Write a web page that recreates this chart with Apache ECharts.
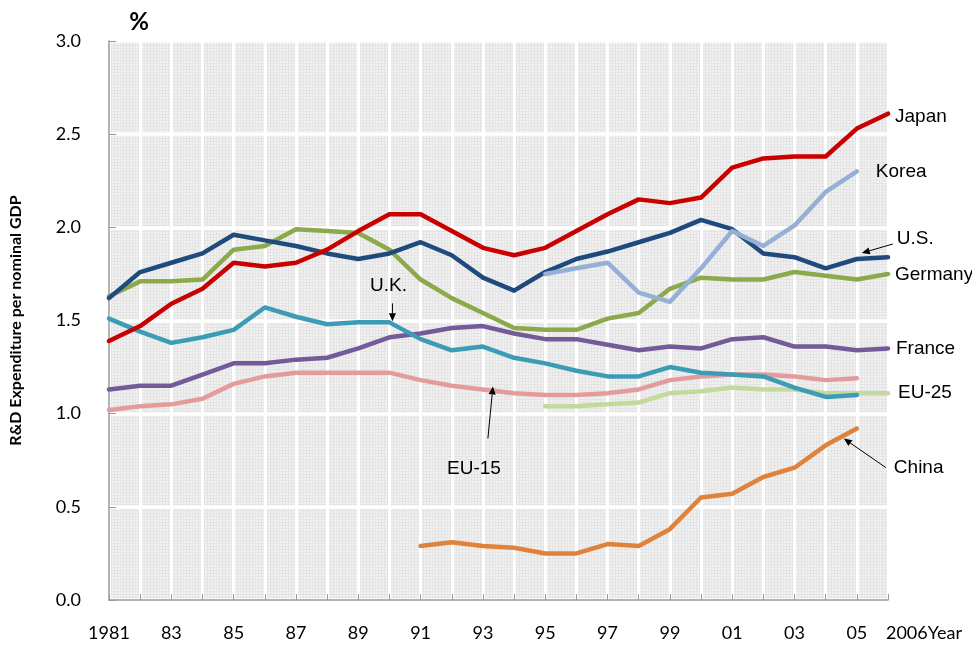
<!DOCTYPE html>
<html>
<head>
<meta charset="utf-8">
<script src="https://cdn.jsdelivr.net/npm/echarts@6/dist/echarts.min.js"></script>
<style>html,body{margin:0;padding:0;background:#fff}#c{width:972px;height:648px}</style>
</head>
<body>
<div id="c"></div>
<script>
const years = ['1981','1982','1983','1984','1985','1986','1987','1988','1989','1990','1991','1992','1993','1994','1995','1996','1997','1998','1999','2000','2001','2002','2003','2004','2005','2006'];
const xTickLabels = ['1981','','83','','85','','87','','89','','91','','93','','95','','97','','99','','01','','03','','05','2006Year'];
const yTicks = [0, 0.5, 1.0, 1.5, 2.0, 2.5, 3.0];

const japan   = [1.39,1.47,1.59,1.67,1.81,1.79,1.81,1.88,1.98,2.07,2.07,1.98,1.89,1.85,1.89,1.98,2.07,2.15,2.13,2.16,2.32,2.37,2.38,2.38,2.53,2.61];
const us      = [1.62,1.76,1.81,1.86,1.96,1.93,1.90,1.86,1.83,1.86,1.92,1.85,1.73,1.66,1.76,1.83,1.87,1.92,1.97,2.04,1.99,1.86,1.84,1.78,1.83,1.84];
const germany = [1.63,1.71,1.71,1.72,1.88,1.90,1.99,1.98,1.97,1.88,1.72,1.62,1.54,1.46,1.45,1.45,1.51,1.54,1.67,1.73,1.72,1.72,1.76,1.74,1.72,1.75];
const uk      = [1.51,1.44,1.38,1.41,1.45,1.57,1.52,1.48,1.49,1.49,1.40,1.34,1.36,1.30,1.27,1.23,1.20,1.20,1.25,1.22,1.21,1.20,1.14,1.09,1.10,null];
const france  = [1.13,1.15,1.15,1.21,1.27,1.27,1.29,1.30,1.35,1.41,1.43,1.46,1.47,1.43,1.40,1.40,1.37,1.34,1.36,1.35,1.40,1.41,1.36,1.36,1.34,1.35];
const eu15    = [1.02,1.04,1.05,1.08,1.16,1.20,1.22,1.22,1.22,1.22,1.18,1.15,1.13,1.11,1.10,1.10,1.11,1.13,1.18,1.20,1.21,1.21,1.20,1.18,1.19,null];
const eu25    = [null,null,null,null,null,null,null,null,null,null,null,null,null,null,1.04,1.04,1.05,1.06,1.11,1.12,1.14,1.13,1.13,1.11,1.11,1.11];
const korea   = [null,null,null,null,null,null,null,null,null,null,null,null,null,null,1.75,1.78,1.81,1.65,1.60,1.78,1.98,1.90,2.01,2.19,2.30,null];
const china   = [null,null,null,null,null,null,null,null,null,null,0.29,0.31,0.29,0.28,0.25,0.25,0.30,0.29,0.38,0.55,0.57,0.66,0.71,0.83,0.92,null];

// background hatch pattern
const pc = document.createElement('canvas');
pc.width = 3; pc.height = 3;
const g = pc.getContext('2d');
g.fillStyle = '#f1f1f1'; g.fillRect(0,0,3,3);
g.fillStyle = '#e4e4e4'; g.fillRect(0,0,3,1); g.fillRect(0,0,1,3);

const LBL = {fontFamily:'Liberation Sans, Arial, sans-serif', fontSize:19, color:'#000'};

function mk(name, data, color, endLbl) {
  const s = {
    name, type:'line', data, symbol:'none', connectNulls:false,
    lineStyle:{color, width:4.5, cap:'round', join:'round'},
    itemStyle:{color}
  };
  if (endLbl) {
    s.endLabel = Object.assign({show:true, formatter:name, distance:endLbl[0], offset:[0,endLbl[1]]}, LBL);
  }
  return s;
}

const chart = echarts.init(document.getElementById('c'), null, {renderer:'canvas'});
chart.setOption({
  animation:false,
  backgroundColor:'#fff',
  grid:{left:109, right:84, top:41, bottom:48, show:true, backgroundColor:{image:pc, repeat:'repeat'}, borderWidth:0},
  xAxis:{
    type:'category', data:years, boundaryGap:false,
    axisLine:{show:true, lineStyle:{color:'#9a9a9a', width:1.5}},
    axisTick:{show:true, inside:true, length:6, interval:0, lineStyle:{color:'#9a9a9a'}},
    axisLabel:{interval:0, margin:24, fontFamily:'Lato, sans-serif', fontSize:18, color:'#000',
      formatter:(v,i)=> xTickLabels[i] === '2006Year' ? '{l|2006Year}' : xTickLabels[i],
      rich:{l:{fontFamily:'Lato, sans-serif', fontSize:18, color:'#000', padding:[0,0,0,72]}}},
    splitLine:{show:true, interval:0, lineStyle:{color:'#ffffff', width:3}}
  },
  yAxis:{
    type:'value', min:0, max:3, interval:0.5,
    name:'R&D Expenditure per nominal GDP', nameLocation:'middle', nameGap:85, nameRotate:90,
    nameTextStyle:{fontFamily:'Lato, sans-serif', fontWeight:'bold', fontSize:16, color:'#000'},
    axisLine:{show:true, lineStyle:{color:'#9a9a9a', width:1.5}},
    axisTick:{show:true, inside:true, length:7, lineStyle:{color:'#9a9a9a'}},
    axisLabel:{margin:28, fontFamily:'Lato, sans-serif', fontSize:18, color:'#000', formatter:v=>v.toFixed(1)},
    splitLine:{show:true, lineStyle:{color:'#ffffff', width:3.5}}
  },
  series:[
    mk('France', france, '#735A98', [8,0]),
    mk('EU-15', eu15, '#E39C9B'),
    mk('EU-25', eu25, '#C4DA9C', [10,0]),
    mk('U.K.', uk, '#3C9CB5'),
    mk('China', china, '#E0823A'),
    mk('Germany', germany, '#8CAA4B', [7,1]),
    mk('U.S.', us, '#1F4A7E'),
    mk('Korea', korea, '#95AFD5', [19,0]),
    mk('Japan', japan, '#C80000', [7,3])
  ]
});

function arrow(x1,y1,x2,y2){
  const dx=x2-x1, dy=y2-y1, L=Math.sqrt(dx*dx+dy*dy), ux=dx/L, uy=dy/L;
  const hl=8, hw=3.5;
  const bx=x2-ux*hl, by=y2-uy*hl;
  return [
    {type:'line', shape:{x1, y1, x2:bx, y2:by}, style:{stroke:'#000', lineWidth:1}, z:100},
    {type:'polygon', shape:{points:[[x2,y2],[bx-uy*hw, by+ux*hw],[bx+uy*hw, by-ux*hw]]}, style:{fill:'#000'}, z:100}
  ];
}
function txt(x,y,text,align){
  return {type:'text', x, y, style:{text, textAlign:align||'left', textVerticalAlign:'middle', fill:'#000', font:'19px "Liberation Sans", Arial, sans-serif'}, z:100};
}
const px = (i,v) => chart.convertToPixel({gridIndex:0}, [i, v]);
const els = [];
// U.S.
let a = px(24, us[24]);
els.push(txt(a[0]+40, a[1]-20, 'U.S.'));
els.push(...arrow(a[0]+36, a[1]-15, a[0]+5, a[1]-6));
// China
a = px(24, china[24]);
els.push(txt(a[0]+37, a[1]+39, 'China'));
els.push(...arrow(a[0]+29, a[1]+39, a[0]-13, a[1]+10));
// U.K.
a = px(9, uk[9]);
els.push(txt(a[0]-1, a[1]-37, 'U.K.', 'center'));
els.push(...arrow(a[0]+3, a[1]-19, a[0]+3, a[1]-1));
// EU-15
a = px(12, eu15[12]);
els.push(txt(a[0]-9, a[1]+79, 'EU-15', 'center'));
els.push(...arrow(a[0]+5, a[1]+49, a[0]+10, a[1]-3));
// %
els.push({type:'text', x:139, y:22, style:{text:'%', textAlign:'center', textVerticalAlign:'middle', fill:'#000', font:'bold 24px Lato, sans-serif'}, z:100});
chart.setOption({graphic:{elements:els}});
</script>
</body>
</html>
